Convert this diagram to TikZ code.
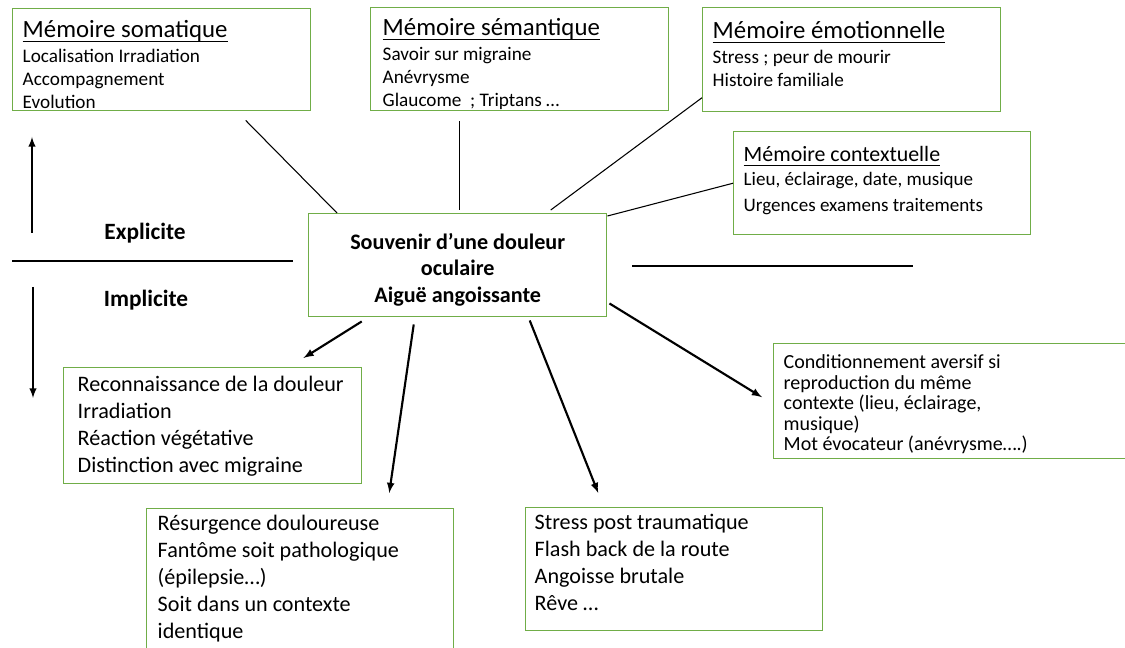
\documentclass[tikz,border=0pt]{standalone}
\usepackage{fontspec}
\setmainfont{Carlito}
\usepackage{xcolor}
\definecolor{boxgreen}{RGB}{112,173,71}
\usepackage{tikz}
\usetikzlibrary{arrows}

\newlength{\px}
\setlength{\px}{0.75pt}
\newcommand{\headfont}{\fontsize{18.6pt}{22pt}\selectfont}
\newcommand{\ctxheadfont}{\fontsize{16.4pt}{20pt}\selectfont}
\newcommand{\topfont}{\fontsize{14.4pt}{17.25pt}\selectfont}
\newcommand{\ctxfont}{\fontsize{14.3pt}{19.5pt}\selectfont}
\newcommand{\lowfont}{\fontsize{16.6pt}{20.25pt}\selectfont}
\newcommand{\condfont}{\fontsize{15pt}{15.4pt}\selectfont}
\newcommand{\headul}[1]{\setbox0\hbox{#1}\rlap{\rule[-3.4pt]{\wd0}{0.9pt}}\box0}
\newcommand{\memtext}[3]{\parbox[c][#2\px][t]{#1\px}{\raggedright #3}}

\begin{document}
\begin{tikzpicture}[x=0.75pt,y=-0.75pt,
    membox/.style={draw=boxgreen,line width=1.1pt,anchor=north west,inner xsep=10\px,inner ysep=0pt},
    centralbox/.style={draw=boxgreen,line width=1.1pt,anchor=north west,minimum width=298\px,minimum height=103\px,align=center,font=\bfseries\fontsize{16.6pt}{20pt}\selectfont},
    sidelabel/.style={font=\bfseries\fontsize{17.5pt}{21pt}\selectfont},
    link/.style={line width=0.8pt},
    branch/.style={-latex,line width=1.6pt},
    divider/.style={line width=1.9pt}]
    \useasboundingbox (0,0) rectangle (1125,648);
    \clip (0,0) rectangle (1125,648);

    % explicit memories
    \node[membox] (soma) at (12,8) {\memtext{278}{102}{%
        {\headfont\rule{0pt}{29\px}\headul{Mémoire somatique}\par}\vspace{1pt}
        {\topfont Localisation Irradiation\\Accompagnement\\Evolution\par}}};
    \node[membox,inner xsep=12\px] (sem) at (370,7) {\memtext{274}{103}{%
        {\headfont\rule{0pt}{28\px}\headul{Mémoire sémantique}\par}\vspace{1pt}
        {\topfont Savoir sur migraine\\Anévrysme\\Glaucome~~; Triptans …\par}}};
    \node[membox] (emo) at (702,7) {\memtext{278}{104}{%
        {\headfont\rule{0pt}{31\px}\headul{Mémoire émotionnelle}\par}\vspace{1pt}
        {\topfont Stress ; peur de mourir\\Histoire familiale\par}}};
    \node[membox] (ctx) at (733,131) {\memtext{277}{103}{%
        {\ctxheadfont\rule{0pt}{30\px}\headul{Mémoire contextuelle}\par}\vspace{-1.5pt}
        {\ctxfont Lieu, éclairage, date, musique\\Urgences examens traitements\par}}};

    \node[centralbox] (souvenir) at (308,213) {\rule{0pt}{18.5pt}Souvenir d’une douleur\\oculaire\\Aiguë angoissante};

    % implicit memories
    \node[membox,inner xsep=14\px] (reco) at (63,367) {\memtext{270}{116}{%
        \lowfont\rule{0pt}{23.5\px}Reconnaissance de la douleur\\Irradiation\\Réaction végétative\\Distinction avec migraine}};
    \node[membox,inner xsep=11\px] (resur) at (146,508) {\memtext{285}{160}{%
        \lowfont\rule{0pt}{21.5\px}Résurgence douloureuse\\Fantôme soit pathologique\\(épilepsie…)\\Soit dans un contexte\\identique}};
    \node[membox,inner xsep=9\px] (stress) at (525,507) {\memtext{279}{123}{%
        \lowfont\rule{0pt}{22\px}Stress post traumatique\\Flash back de la route\\Angoisse brutale\\Rêve …}};
    \node[membox] (cond) at (773,343) {\memtext{360}{115}{%
        \condfont\rule{0pt}{25\px}Conditionnement aversif si\\reproduction du même\\contexte (lieu, éclairage,\\musique)\\Mot évocateur (anévrysme….)}};

    \node[sidelabel] (expl) at (145,233) {Explicite};
    \node[sidelabel] (impl) at (146,300) {Implicite};

    % separators
    \draw[divider] (12,261) -- (293,261);
    \draw[divider] (632,266) -- (913,266);
    \draw[-latex,line width=1.5pt] (32,233) -- (32,137);
    \draw[-latex,line width=1.5pt] (33,287) -- (33,398);

    \draw[link] ([xshift=84\px,yshift=-9\px]soma.south) -- ([xshift=29\px]souvenir.north west);
    \draw[link] ([xshift=-60\px,yshift=-10\px]sem.south) -- ([xshift=2\px,yshift=3\px]souvenir.north);
    \draw[link] ([xshift=93\px,yshift=3\px]souvenir.north) -- ([yshift=-38\px]emo.west);
    \draw[link] ([yshift=-3\px]souvenir.north east) -- (ctx.west);

    \draw[branch] ([xshift=-96\px,yshift=-4\px]souvenir.south) -- ([xshift=-59\px,yshift=9\px]reco.north east);
    \draw[branch] ([xshift=-44\px,yshift=-7\px]souvenir.south) -- ([xshift=89\px,yshift=15\px]resur.north);
    \draw[branch] ([xshift=72\px,yshift=-3\px]souvenir.south) -- ([xshift=-76\px,yshift=14\px]stress.north);
    \draw[branch] ([xshift=2\px,yshift=14\px]souvenir.south east) -- ([xshift=-11\px,yshift=4\px]cond.west);
\end{tikzpicture}
\end{document}
